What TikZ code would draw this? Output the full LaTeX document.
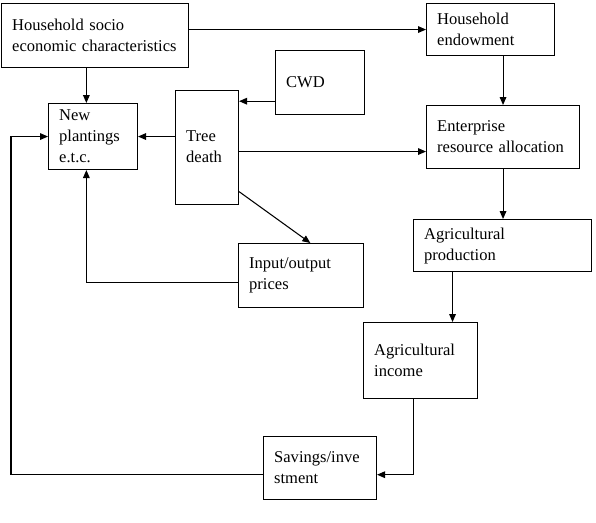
\documentclass[tikz,border=0pt]{standalone}
\usepackage{fontspec}
\setmainfont{Liberation Serif}
\usetikzlibrary{arrows.meta}

\begin{document}
\begin{tikzpicture}[x=0.75pt, y=-0.75pt,
    box/.style={draw, line width=0.8pt, anchor=north west, align=left,
      inner xsep=8pt, inner ysep=0pt, font=\fontsize{12.4}{15.75}\selectfont},
    link/.style={-{Triangle[length=6pt,width=5pt]}, line width=0.8pt}]
  \useasboundingbox (0,0) rectangle (596,522);
  \node[box, minimum width=140.25pt, minimum height=48pt, text width=124.25pt] (hsocio) at (1,3) {Household socio\\economic characteristics};
  \node[box, minimum width=96pt, minimum height=39pt, text width=80pt] (hend) at (426,3) {Household\\endowment};
  \node[box, minimum width=66.75pt, minimum height=48pt, text width=50.75pt] (cwd) at (275,50) {CWD};
  \node[box, minimum width=47.25pt, minimum height=85.5pt, text width=31.25pt, text depth=16.7pt] (tree) at (175,90) {Tree\\death};
  \node[box, minimum width=66.75pt, minimum height=49.5pt, text width=50.75pt] (newpl) at (48,103) {New\\plantings\\e.t.c.};
  \node[box, minimum width=114.75pt, minimum height=47.25pt, text width=98.75pt] (enter) at (426,105) {Enterprise\\resource allocation};
  \node[box, minimum width=93.75pt, minimum height=48pt, text width=77.75pt] (inout) at (238,243) {Input/output\\prices};
  \node[box, minimum width=133.5pt, minimum height=39pt, text width=117.5pt] (agprod) at (413,219) {Agricultural\\production};
  \node[box, minimum width=85.5pt, minimum height=57pt, text width=69.5pt, text depth=16.7pt] (agincome) at (363,322) {Agricultural\\income};
  \node[box, minimum width=84.75pt, minimum height=47.25pt, text width=68.75pt] (savings) at (263,436) {Savings/inve\\stment};
  \coordinate (lft) at (11,0);

  \draw[link] (hsocio.east |- hend.west) -- (hend.west);
  \draw[link] ([xshift=-5pt]newpl.north |- hsocio.south) -- ([xshift=-5pt]newpl.north);
  \draw[link] ([yshift=-14pt]cwd.west) -- ([yshift=-14pt]cwd.west -| tree.east);
  \draw[link] (tree.west |- newpl.east) -- (newpl.east);
  \draw[link] ([yshift=-5pt]savings.west) -- ([yshift=-5pt]savings.west -| lft) |- (newpl.west);
  \draw[link] ([yshift=-3pt]tree.east) -- ([yshift=-3pt]tree.east -| enter.west);
  \draw[link] (tree.-54) -- ([xshift=7pt]inout.north);
  \draw[link] ([yshift=-5pt]inout.west) -| ([xshift=-5pt]newpl.south);
  \draw[link] (hend.south -| enter.north) -- (enter.north);
  \draw[link] (enter.south) -- (enter.south |- agprod.north);
  \draw[link] ([xshift=24pt]agincome.north |- agprod.south) -- ([xshift=24pt]agincome.north);
  \draw[link] ([xshift=-5pt]agincome.south) |- ([yshift=-5pt]savings.east);
\end{tikzpicture}
\end{document}
